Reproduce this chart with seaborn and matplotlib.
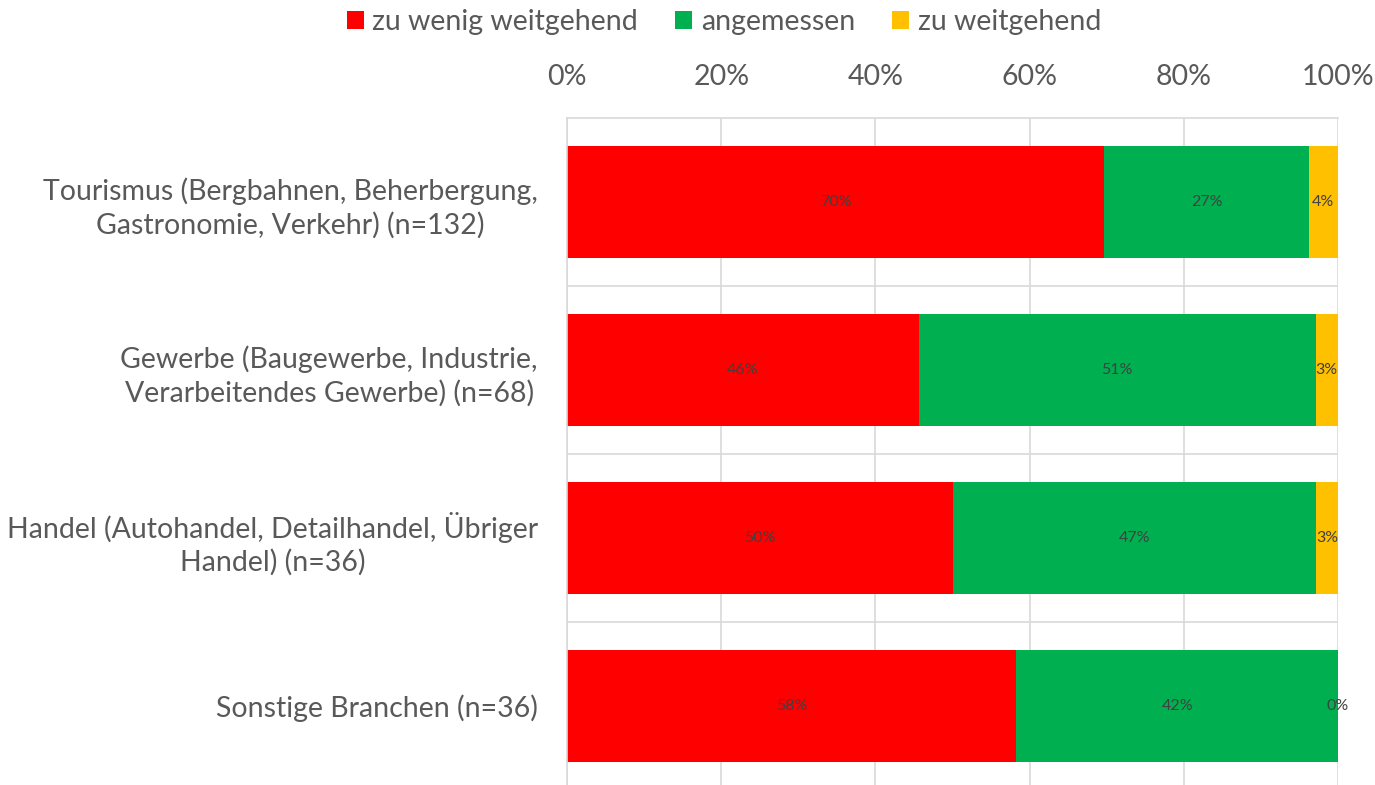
import matplotlib
matplotlib.use("Agg")
import matplotlib.pyplot as plt
import seaborn as sns
import pandas as pd
import numpy as np
from matplotlib.patches import Patch

categories = [
    "Tourismus (Bergbahnen, Beherbergung,\nGastronomie, Verkehr) (n=132)",
    "Gewerbe (Baugewerbe, Industrie,\nVerarbeitendes Gewerbe) (n=68)",
    "Handel (Autohandel, Detailhandel, Übriger\nHandel) (n=36)",
    "Sonstige Branchen (n=36)",
]
series_names = ["zu wenig weitgehend", "angemessen", "zu weitgehend"]
zu_wenig = [69.7, 45.6, 50.0, 58.3]
angemessen = [26.5, 51.5, 47.2, 41.7]
zu_weit = [3.8, 2.9, 2.8, 0.0]
labels_zu_wenig = ["70%", "46%", "50%", "58%"]
labels_angemessen = ["27%", "51%", "47%", "42%"]
labels_zu_weit = ["4%", "3%", "3%", "0%"]
xticks = [0, 20, 40, 60, 80, 100]
xtick_labels = ["0%", "20%", "40%", "60%", "80%", "100%"]
colors = ["#FF0000", "#00B050", "#FFC000"]

sns.set_theme(style="white")
plt.rcParams["font.family"] = ["Lato", "DejaVu Sans"]
TXT = "#595959"

fig = plt.figure(figsize=(13.75, 7.85), dpi=100)
ax = fig.add_axes([567 / 1375, -5 / 785, 771 / 1375, 672 / 785])

vals = [zu_wenig, angemessen, zu_weit]
lbls = [labels_zu_wenig, labels_angemessen, labels_zu_weit]
cum = np.cumsum(np.array(vals), axis=0)

# draw from largest cumulative to smallest so segments stack
for i in reversed(range(3)):
    df = pd.DataFrame({"cat": categories, "val": cum[i]})
    sns.barplot(data=df, x="val", y="cat", color=colors[i], width=0.665,
                saturation=1, ax=ax, orient="h", linewidth=0, zorder=2)

for i in range(3):
    starts = cum[i] - np.array(vals[i])
    for j in range(len(categories)):
        ax.text(starts[j] + vals[i][j] / 2, j, lbls[i][j], ha="center", va="center",
                fontsize=11.5, color="#404040", zorder=5)

ax.set_xlim(0, 100)
ax.set_ylim(3.5, -0.5)
ax.set_xticks(xticks)
ax.set_xticklabels(xtick_labels)
ax.xaxis.tick_top()
ax.tick_params(axis="x", length=0, pad=20, labelsize=20.5, labelcolor=TXT)
ax.tick_params(axis="y", length=0, pad=21, labelsize=20.5, labelcolor=TXT)
for t in ax.get_yticklabels():
    t.set_multialignment("center")
    t.set_linespacing(1.3)
ax.set_xlabel("")
ax.set_ylabel("")

ax.set_yticks([0.5, 1.5, 2.5], minor=True)
ax.grid(axis="x", color="#D9D9D9", linewidth=1.2, zorder=0)
ax.grid(axis="y", which="minor", color="#D9D9D9", linewidth=1.2, zorder=0)
ax.grid(axis="y", which="major", visible=False)
ax.set_axisbelow(True)
for s in ["right", "bottom"]:
    ax.spines[s].set_visible(False)
for s in ["top", "left"]:
    ax.spines[s].set_visible(True)
    ax.spines[s].set_color("#D9D9D9")
    ax.spines[s].set_linewidth(1.2)

handles = [Patch(facecolor=c, edgecolor="none") for c in colors]
fig.legend(handles, series_names, loc="center", bbox_to_anchor=(724 / 1375, 1 - 22 / 785),
           ncol=3, frameon=False, fontsize=20.5, labelcolor=TXT,
           handlelength=0.6, handleheight=0.6, handletextpad=0.3, columnspacing=1.3)

fig.savefig("out.png", dpi=100)
